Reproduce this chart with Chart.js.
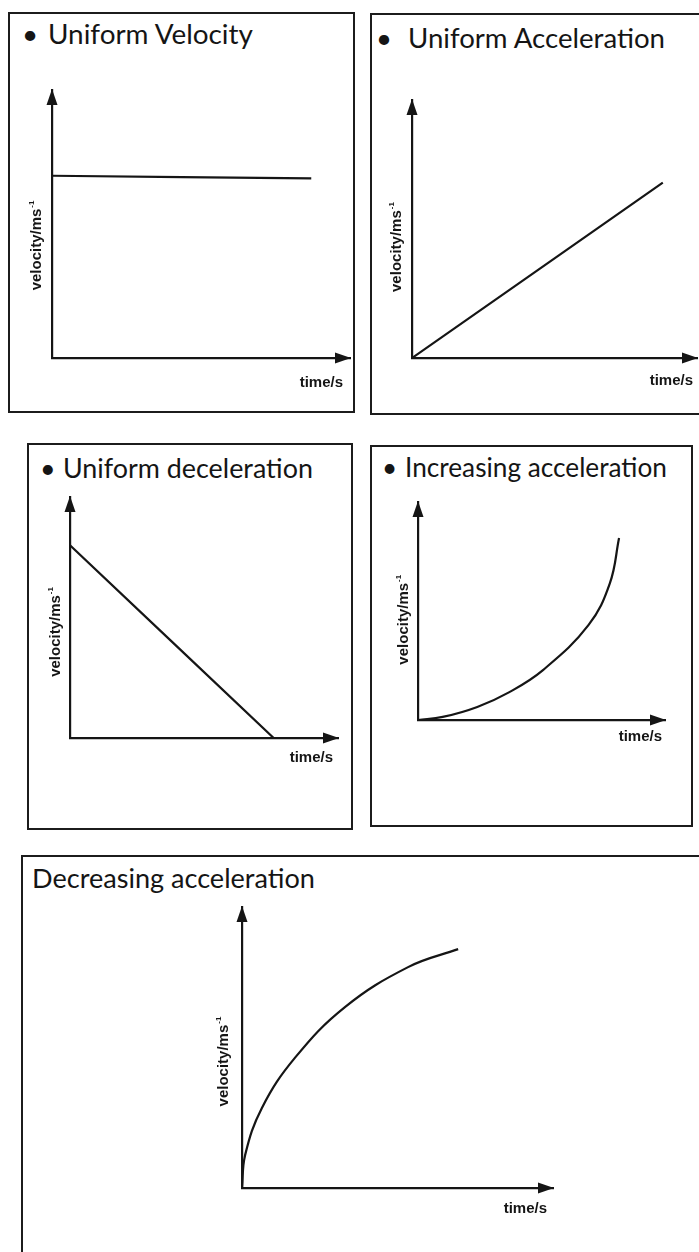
<!DOCTYPE html>
<html>
<head>
<meta charset="utf-8">
<script src="https://cdn.jsdelivr.net/npm/chart.js@4.4.0/dist/chart.umd.min.js"></script>
<style>
  body { margin: 0; background: #fff; }
  #page { position: relative; width: 699px; height: 1252px; overflow: hidden; background: #fff; }
  .box { position: absolute; border: 2px solid #1c1c1c; box-sizing: border-box; }
  .title { position: absolute; font-family: Lato, "Open Sans", sans-serif; color: #151515; white-space: nowrap; line-height: 1; }
  canvas { position: absolute; }
</style>
</head>
<body>
<div id="page"></div>
<script>
// velocity-time sketches, time and velocity in arbitrary units (0-10 on both axes)
const titles = ["Uniform Velocity", "Uniform Acceleration", "Uniform deceleration",
                "Increasing acceleration", "Decreasing acceleration"];
const hasBullet = [true, true, true, true, false];
const xAxisLabel = "time/s";
const yAxisLabel = "velocity/ms";
const yAxisSup = "-1";

const uniformVelTime = [0, 8.7];
const uniformVelSpeed = [6.8, 6.7];

const uniformAccTime = [0, 8.8];
const uniformAccSpeed = [0, 6.8];

const uniformDecTime = [0, 7.6];
const uniformDecSpeed = [8.0, 0];

const incAccTime = [0, 1.0, 2.4, 3.7, 5.06, 6.9, 7.77, 8.14];
const incAccSpeed = [0, 0.14, 0.6, 1.28, 2.29, 4.35, 6.28, 8.35];

const decAccTime = [0, 0.1, 0.64, 1.7, 3.31, 5.34, 6.95];
const decAccSpeed = [0, 1.17, 2.85, 4.63, 6.44, 7.86, 8.5];

const series = [
    [uniformVelTime, uniformVelSpeed],
    [uniformAccTime, uniformAccSpeed],
    [uniformDecTime, uniformDecSpeed],
    [incAccTime, incAccSpeed],
    [decAccTime, decAccSpeed]
];

// page layout for each panel: frame, plot area, title placement, label offsets
const panels = [
    { box: [8, 12, 347, 401], area: [52, 90, 350, 358], bullet: 22, tx: 48, base: 42, tw: 205,
      xDrop: 25, xInset: 7, yGap: 15, yPos: 0.58 },
    { box: [370, 13, 340, 402], area: [412, 100, 697, 358], bullet: 376, tx: 408, base: 46, tw: 257,
      xDrop: 23, xInset: 4, yGap: 15, yPos: 0.57 },
    { box: [27, 443, 326, 387], area: [70, 497, 338, 738], bullet: 40, tx: 63, base: 477, tw: 250,
      xDrop: 20, xInset: 5, yGap: 14, yPos: 0.56 },
    { box: [370, 445, 323, 382], area: [418, 502, 665, 720], bullet: 382, tx: 405, base: 475, tw: 262,
      xDrop: 17, xInset: 3, yGap: 14, yPos: 0.54 },
    { box: [21, 855, 700, 420], area: [242, 907, 553, 1188], bullet: null, tx: 32, base: 886, tw: 283,
      xDrop: 21, xInset: 6, yGap: 18, yPos: 0.55 }
];

const ink = "#151515";
const baseRatio = 0.805;

// arrowheads on both axes plus the axis captions
const axisDecor = {
    id: "axisDecor",
    afterDraw(chart, args, opts) {
        const ctx = chart.ctx;
        const a = chart.chartArea;
        ctx.save();
        ctx.fillStyle = ink;

        ctx.beginPath();
        ctx.moveTo(a.right + 1, a.bottom);
        ctx.lineTo(a.right - 15, a.bottom - 5.5);
        ctx.lineTo(a.right - 15, a.bottom + 5.5);
        ctx.closePath();
        ctx.fill();

        ctx.beginPath();
        ctx.moveTo(a.left, a.top - 1);
        ctx.lineTo(a.left - 5.5, a.top + 15);
        ctx.lineTo(a.left + 5.5, a.top + 15);
        ctx.closePath();
        ctx.fill();

        ctx.font = 'bold 15px "Liberation Sans", Arial, sans-serif';
        ctx.textAlign = "right";
        ctx.textBaseline = "middle";
        ctx.fillText(xAxisLabel, a.right - opts.xInset, a.bottom + opts.xDrop);

        ctx.translate(a.left - opts.yGap, a.top + (a.bottom - a.top) * opts.yPos);
        ctx.rotate(-Math.PI / 2);
        const mainW = ctx.measureText(yAxisLabel).width;
        ctx.font = 'bold 8px "Liberation Sans", Arial, sans-serif';
        const supW = ctx.measureText(yAxisSup).width;
        const x0 = -(mainW + supW + 1) / 2;
        ctx.textAlign = "left";
        ctx.fillText(yAxisSup, x0 + mainW + 1, -5);
        ctx.font = 'bold 15px "Liberation Sans", Arial, sans-serif';
        ctx.fillText(yAxisLabel, x0, 0);
        ctx.restore();
    }
};

const page = document.getElementById("page");

function addTitle(text, x, base, targetW) {
    const el = document.createElement("div");
    el.className = "title";
    el.textContent = text;
    el.style.fontSize = "26px";
    page.appendChild(el);
    if (targetW) {
        const size = 26 * targetW / el.getBoundingClientRect().width;
        el.style.fontSize = size.toFixed(2) + "px";
    }
    const fs = parseFloat(el.style.fontSize);
    el.style.left = x + "px";
    el.style.top = (base - fs * baseRatio) + "px";
    return fs;
}

panels.forEach((p, i) => {
    const [bx, by, bw, bh] = p.box;
    const [l, t, r, b] = p.area;

    const frame = document.createElement("div");
    frame.className = "box";
    Object.assign(frame.style, { left: bx + "px", top: by + "px", width: bw + "px", height: bh + "px" });
    page.appendChild(frame);

    const fs = addTitle(titles[i], p.tx, p.base, p.tw);
    if (hasBullet[i]) {
        const dot = document.createElement("div");
        dot.className = "title";
        dot.textContent = "•";
        dot.style.fontSize = fs + "px";
        dot.style.left = p.bullet + "px";
        dot.style.top = (p.base - fs * baseRatio) + "px";
        page.appendChild(dot);
    }

    const canvas = document.createElement("canvas");
    canvas.width = bw;
    canvas.height = bh;
    canvas.style.left = bx + "px";
    canvas.style.top = by + "px";
    page.appendChild(canvas);

    const [times, speeds] = series[i];

    new Chart(canvas, {
        type: "scatter",
        data: {
            datasets: [{
                data: times.map((tv, k) => ({ x: tv, y: speeds[k] })),
                showLine: true,
                borderColor: ink,
                borderWidth: 2.2,
                pointRadius: 0,
                tension: 0.4
            }]
        },
        options: {
            responsive: false,
            animation: false,
            events: [],
            layout: {
                padding: { left: l - bx, top: t - by, right: bx + bw - r, bottom: by + bh - b }
            },
            plugins: {
                legend: { display: false },
                tooltip: { enabled: false },
                axisDecor: p
            },
            scales: {
                x: {
                    type: "linear", min: 0, max: 10,
                    grid: { display: false, drawTicks: false },
                    ticks: { display: false },
                    border: { display: true, color: ink, width: 2.2 },
                    afterFit: s => { s.height = 0; }
                },
                y: {
                    type: "linear", min: 0, max: 10,
                    grid: { display: false, drawTicks: false },
                    ticks: { display: false },
                    border: { display: true, color: ink, width: 2.2 },
                    afterFit: s => { s.width = 0; }
                }
            }
        },
        plugins: [axisDecor]
    });
});
</script>
</body>
</html>
